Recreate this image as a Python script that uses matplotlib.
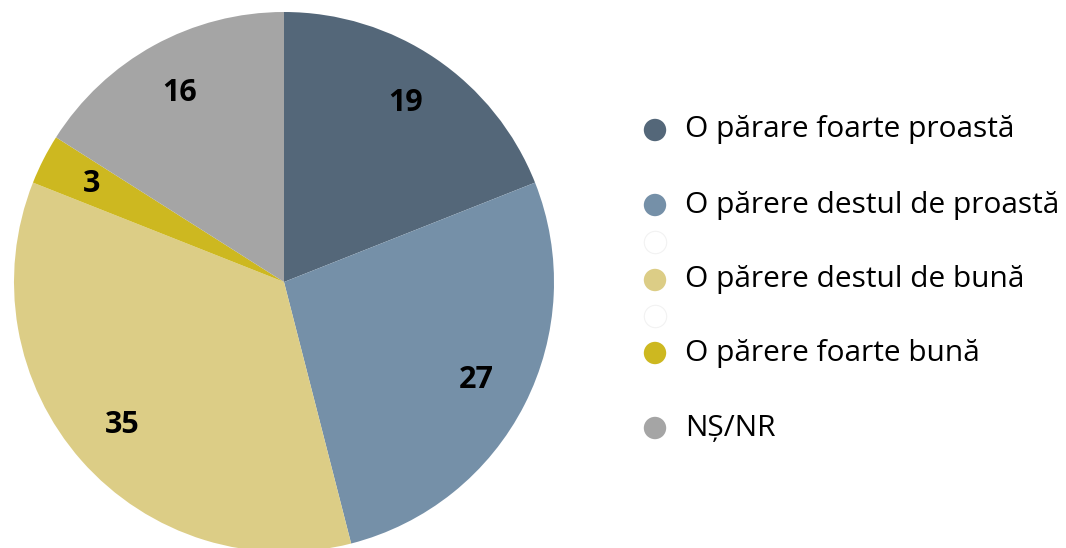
import matplotlib
matplotlib.use("Agg")
import matplotlib.pyplot as plt

# date
labels = ["O părare foarte proastă", "O părere destul de proastă", "O părere destul de bună",
          "O părere foarte bună", "NȘ/NR"]
values = [19, 27, 35, 3, 16]
colors = ["#546779", "#7590A8", "#DCCD86", "#CDB820", "#A5A5A5"]

# pozitii legenda (pixeli de sus), cu cele doua intrari goale
leg_y = [130, 205, 280, 353, 428]
blank_y = [242, 316]

plt.rcParams['font.family'] = ['Open Sans', 'DejaVu Sans']

W, H = 1066, 548
fig = plt.figure(figsize=(W / 100, H / 100), dpi=100)

cx, cy, r = 284, 282, 270
ax = fig.add_axes([(cx - r) / W, (H - cy - r) / H, 2 * r / W, 2 * r / H])
wedges, texts = ax.pie(values, colors=colors, startangle=90, counterclock=False,
                       labels=[str(v) for v in values], labeldistance=0.8,
                       wedgeprops=dict(linewidth=0),
                       textprops=dict(fontsize=22, fontweight="bold", color="black"))
for t in texts:
    t.set_ha("center")
    t.set_va("center")
ax.set_xlim(-1, 1)
ax.set_ylim(-1, 1)
ax.set_aspect("equal")
ax.axis("off")

# legenda desenata manual
lax = fig.add_axes([0, 0, 1, 1])
lax.set_xlim(0, W)
lax.set_ylim(H, 0)
lax.axis("off")
lax.scatter([655] * len(leg_y), leg_y, s=260, c=colors, edgecolors="none")
lax.scatter([655] * len(blank_y), blank_y, s=260, c="white", edgecolors="#F2F2F2", linewidths=0.8)
for y, lab in zip(leg_y, labels):
    lax.text(685, y, lab, fontsize=21.5, va="center", ha="left", color="black")

fig.savefig("out.png", dpi=100)
